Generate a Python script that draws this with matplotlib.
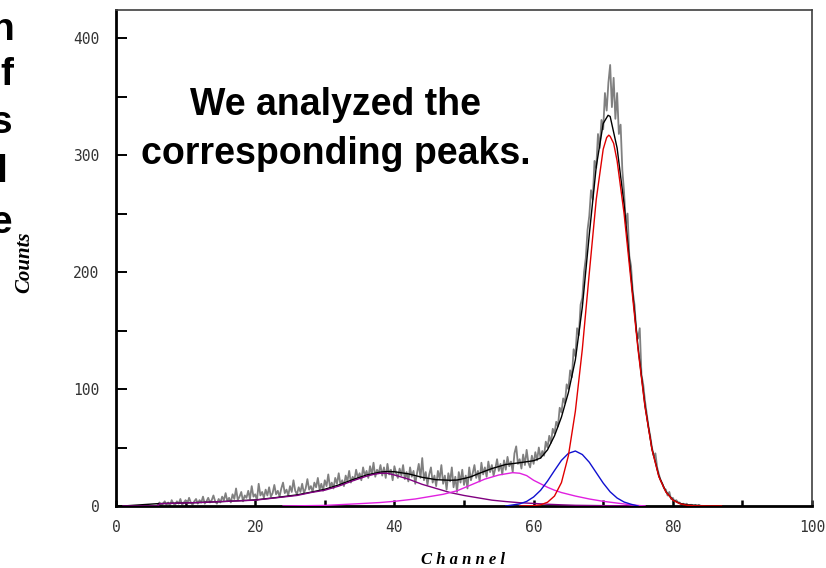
import numpy as np
import matplotlib.pyplot as plt
from matplotlib.ticker import MultipleLocator

# Измеренный спектр (шаг 0.25 канала, начиная с 6-го канала)
spec_start = 6.0
spec_step = 0.25
spec_counts = [
    # 6 - 15.75
    1, 3, 0, 2, 4, 1, 3, 0, 5, 2, 1, 4, 2, 6, 1, 3, 5, 2, 7, 3,
    1, 4, 6, 2, 5, 3, 8, 2, 4, 7, 3, 5, 9, 4, 2, 6, 3, 8, 5, 11,
    # 16 - 25.75
    4, 7, 3, 10, 6, 15, 5, 8, 12, 4, 9, 7, 13, 6, 17, 8, 10, 5, 19, 9,
    12, 7, 14, 9, 16, 8, 11, 18, 10, 13, 8, 15, 20, 11, 14, 9, 17, 12, 22, 13,
    # 26 - 35.75
    10, 16, 12, 19, 11, 15, 23, 14, 17, 12, 20, 16, 24, 14, 19, 13, 22, 17, 27, 16,
    20, 15, 24, 19, 28, 18, 22, 17, 26, 21, 30, 20, 25, 22, 31, 24, 28, 22, 33, 26,
    # 36 - 45.75
    30, 24, 34, 27, 37, 25, 31, 28, 35, 26, 33, 24, 36, 27, 31, 22, 34, 28, 24, 32,
    26, 35, 23, 29, 21, 33, 25, 30, 19, 28, 36, 24, 41, 22, 29, 18, 27, 33, 20, 26,
    # 46 - 55.75
    17, 30, 23, 35, 19, 26, 14, 28, 21, 33, 16, 25, 12, 29, 20, 31, 18, 26, 15, 33,
    22, 28, 35, 24, 30, 21, 37, 27, 33, 25, 38, 29, 35, 26, 32, 40, 30, 36, 27, 39,
    # 56 - 61.75
    31, 42, 34, 38, 29, 45, 51, 36, 40, 32, 44, 35, 48, 37, 33, 43, 36, 46, 39, 50,
    41, 47, 43, 55,
    # 62 - 69.75
    50, 60, 54, 66, 62, 72, 68, 84, 80, 92, 88, 104, 100, 116, 110, 134, 128, 152, 146, 172,
    178, 200, 212, 236, 248, 270, 262, 295, 289, 318, 306, 330,
    # 70 - 72.75
    322, 353, 338, 362, 377, 341, 366, 331, 353, 318, 326, 287,
    # 73 - 84
    268, 241, 250, 214, 205, 183, 172, 150, 143, 152, 112, 104, 90, 79, 68, 60, 50, 43, 45, 33,
    27, 22, 19, 15, 14, 9, 12, 6, 7, 4, 5, 3, 3, 1, 2, 1, 2, 0, 1, 1,
    0, 1, 0, 1, 0,
]
spec_chan = spec_start + spec_step * np.arange(len(spec_counts))

# Подгонка: сумма всех пиков
fit_chan = [1, 6, 12, 16, 20, 23, 26, 28, 30, 32, 34, 36, 38, 39, 40, 42, 44, 46, 48, 49,
            50, 51, 52, 54, 56, 58, 60, 61, 62, 63, 64, 65, 66, 67, 68, 69, 70, 70.7, 71, 72,
            73, 74, 75, 76, 77, 78, 79, 80, 81, 82, 84, 87]
fit_counts = [0, 2, 3, 4, 5.2, 7.2, 9.5, 11.8, 14.3, 18, 22.5, 26.5, 29, 29.5, 29.3, 27.5, 24.5, 22.5, 22, 22.2,
              23.5, 25, 27.5, 32, 35.5, 37, 38.7, 41, 48, 60, 76, 97, 125, 170, 232, 290, 327, 334, 333, 306,
              258, 196, 136, 86, 49, 25.5, 12.3, 5.2, 2.2, 1, 0.3, 0]

# Пик 1 (широкий, ~39 канал)
p1_chan = [1, 6, 6.3, 12, 16, 20, 23, 26, 28, 30, 32, 34, 36, 37, 38, 39, 40, 42, 44, 46,
           48, 50, 52, 54, 56, 58, 60, 62, 64, 66, 70, 76]
p1_counts = [0, 0, 2, 3, 4, 5, 7, 9, 11.5, 13.5, 17, 21.5, 25.5, 27, 28, 28, 26.5, 23, 18.5, 15,
             11.5, 9, 7, 5, 3.8, 2.8, 2.2, 1.5, 1, 0.6, 0.3, 0]

# Пик 2 (~57 канал)
p2_chan = [24, 30, 35, 38, 40, 43, 45, 47, 49, 51, 53, 55, 57, 58, 59, 60, 61, 62, 63, 64,
           65, 66, 68, 70, 72, 74, 76]
p2_counts = [0, 0.5, 2, 3, 4, 6, 8, 10, 13, 18, 23, 26.5, 28.5, 28, 26, 22, 19, 16, 13.5, 11.5,
             10, 8.5, 6, 4, 2.5, 1, 0]

# Пик 3 (~66 канал)
p3_chan = [56, 58, 59, 60, 61, 62, 63, 64, 65, 66, 67, 68, 69, 70, 71, 72, 73, 74, 75]
p3_counts = [0, 1.8, 3.9, 7.7, 13.4, 21.3, 30.3, 39, 45, 47, 44, 37.4, 28.5, 19.6, 12.1, 6.8, 3.4, 1.5, 0]

# Пик 4 (основной, ~71 канал)
p4_chan = [58, 60, 61, 62, 63, 64, 65, 66, 67, 68, 69, 70, 70.5, 70.8, 71, 71.5, 72, 73, 74, 75,
           76, 77, 78, 79, 80, 81, 82, 83, 85, 87]
p4_counts = [0, 0.3, 1, 3.2, 8.5, 20, 43, 81, 134, 199, 262, 305, 315, 317, 316, 310, 295, 250, 192, 134,
             85, 48.5, 25, 12, 5, 2, 0.7, 0.2, 0, 0]

x_ticks = [0, 20, 40, 60, 80, 100]
y_ticks = [0, 100, 200, 300, 400]

fig = plt.figure(figsize=(8.26, 5.68), dpi=100)
ax = fig.add_axes([116 / 826, 1 - 506 / 568, (812 - 116) / 826, (506 - 10) / 568])

ax.plot(spec_chan, spec_counts, color='#808080', lw=1.3, zorder=2)
ax.plot(fit_chan, fit_counts, color='black', lw=1.0, zorder=3)
ax.plot(p1_chan, p1_counts, color='#800080', lw=1.0, zorder=4)
ax.plot(p2_chan, p2_counts, color='#e020e0', lw=1.0, zorder=4)
ax.plot(p3_chan, p3_counts, color='#1010d0', lw=1.0, zorder=4)
ax.plot(p4_chan, p4_counts, color='#e00000', lw=1.0, zorder=5)

ax.set_xlim(0, 100)
ax.set_ylim(0, 424)
ax.set_xticks(x_ticks)
ax.set_yticks(y_ticks)
ax.xaxis.set_minor_locator(MultipleLocator(10))
ax.yaxis.set_minor_locator(MultipleLocator(50))

for side in ['left', 'bottom']:
    ax.spines[side].set_linewidth(2.0)
    ax.spines[side].set_color('black')
for side in ['top', 'right']:
    ax.spines[side].set_linewidth(1.2)
    ax.spines[side].set_color('#404040')

ax.tick_params(axis='x', which='both', direction='in', length=4, width=1.8, pad=10,
               top=False, labelsize=10.5, labelcolor='#333333')
ax.tick_params(axis='y', which='both', direction='in', length=8, width=1.4, pad=12,
               right=False, labelsize=10.5, labelcolor='#333333')
for lab in ax.get_xticklabels() + ax.get_yticklabels():
    lab.set_family('DejaVu Sans Mono')

fig.text(463 / 826, 1 - 560 / 568, 'C h a n n e l', ha='center', va='center',
         family='Liberation Serif', style='italic', weight='bold', fontsize=12)
fig.text(24 / 826, 1 - 262 / 568, 'Counts', ha='center', va='center', rotation=90,
         family='Liberation Serif', style='italic', weight='bold', fontsize=15)

# Подпись на графике
fig.text(336 / 826, 1 - 115 / 568, 'We analyzed the', ha='center', va='baseline',
         family='Liberation Sans', weight='bold', fontsize=27)
fig.text(336 / 826, 1 - 164 / 568, 'corresponding peaks.', ha='center', va='baseline',
         family='Liberation Sans', weight='bold', fontsize=27)

# Обрезанный текст слайда слева
for letter, xr, yb in [('n', 14, 40), ('f', 13, 85), ('s', 12, 133), ('l', 7, 182), ('e', 12, 233)]:
    fig.text(xr / 826, 1 - yb / 568, letter, ha='right', va='baseline',
             family='Liberation Sans', weight='bold', fontsize=28)

fig.savefig('out.png', dpi=100)
